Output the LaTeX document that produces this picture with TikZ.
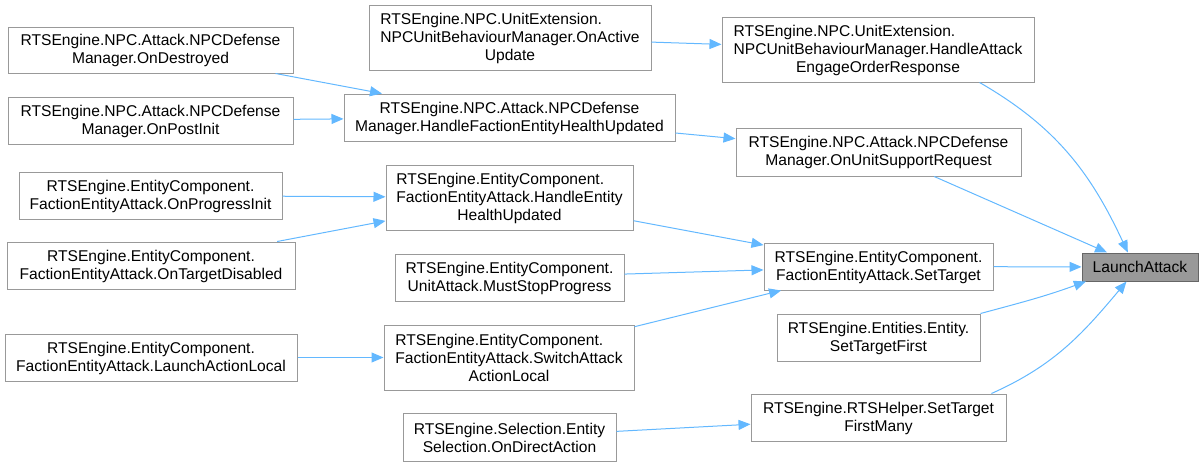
\documentclass[tikz,border=0pt]{standalone}
\usepackage{fontspec}
\setmainfont{Liberation Sans}
\usepackage{tikz}
\usetikzlibrary{calc,arrows.meta}

\definecolor{edgeblue}{HTML}{63B8FF}
\definecolor{boxline}{HTML}{999999}
\definecolor{mainfill}{HTML}{999999}
\definecolor{mainline}{HTML}{666666}

% lines before the last one are left aligned, the last one centred
\newcommand{\fnlabel}[2]{\begin{tabular}[b]{@{}l@{}}#1\end{tabular}\\#2}

\tikzset{
  fnbox/.style={draw=boxline, line width=1pt, fill=white, rectangle, inner sep=0pt,
    align=center, font=\fontsize{15.6}{18}\selectfont},
  mainbox/.style={fnbox, draw=mainline, fill=mainfill},
  call/.style={draw=edgeblue, line width=1pt, -{Triangle[length=12pt,width=10pt]}}
}

\begin{document}
\begin{tikzpicture}[x=1pt, y=-1pt]
					\useasboundingbox (0, 0) rectangle (1203, 466);

					\node[mainbox, minimum width=116pt, minimum height=28pt] (launch) at (1140, 267) {LaunchAttack};

					\node[fnbox, minimum width=312pt, minimum height=65pt] (engage) at (878, 49.5)
						{\fnlabel{RTSEngine.NPC.UnitExtension.\\NPCUnitBehaviourManager.HandleAttack}{EngageOrderResponse}};
					\node[fnbox, minimum width=285pt, minimum height=48pt] (supportreq) at (878.5, 152)
						{\fnlabel{RTSEngine.NPC.Attack.NPCDefense}{Manager.OnUnitSupportRequest}};
					\node[fnbox, minimum width=229pt, minimum height=47pt] (settarget) at (878.5, 266.5)
						{\fnlabel{RTSEngine.EntityComponent.}{FactionEntityAttack.SetTarget}};
					\node[fnbox, minimum width=203pt, minimum height=47pt] (targetfirst) at (878.5, 337.5)
						{\fnlabel{RTSEngine.Entities.Entity.}{SetTargetFirst}};
					\node[fnbox, minimum width=255pt, minimum height=47pt] (firstmany) at (878.5, 417.5)
						{\fnlabel{RTSEngine.RTSHelper.SetTarget}{FirstMany}};

					\node[fnbox, minimum width=282pt, minimum height=65pt] (activeupd) at (510, 37.5)
						{\fnlabel{RTSEngine.NPC.UnitExtension.\\NPCUnitBehaviourManager.OnActive}{Update}};
					\node[fnbox, minimum width=331pt, minimum height=47pt] (factionhealth) at (509.5, 117.5)
						{\fnlabel{RTSEngine.NPC.Attack.NPCDefense}{Manager.HandleFactionEntityHealthUpdated}};
					\node[fnbox, minimum width=247pt, minimum height=65pt] (entityhealth) at (509.5, 197.5)
						{\fnlabel{RTSEngine.EntityComponent.\\FactionEntityAttack.HandleEntity}{HealthUpdated}};
					\node[fnbox, minimum width=229pt, minimum height=47pt] (muststop) at (509.5, 277.5)
						{\fnlabel{RTSEngine.EntityComponent.}{UnitAttack.MustStopProgress}};
					\node[fnbox, minimum width=250pt, minimum height=65pt] (switchattack) at (509, 357.5)
						{\fnlabel{RTSEngine.EntityComponent.\\FactionEntityAttack.SwitchAttack}{ActionLocal}};
					\node[fnbox, minimum width=213pt, minimum height=48pt] (directaction) at (509.5, 437)
						{\fnlabel{RTSEngine.Selection.Entity}{Selection.OnDirectAction}};

					\node[fnbox, minimum width=285pt, minimum height=46pt] (destroyed) at (150.5, 50)
						{\fnlabel{RTSEngine.NPC.Attack.NPCDefense}{Manager.OnDestroyed}};
					\node[fnbox, minimum width=285pt, minimum height=47pt] (postinit) at (150.5, 120.5)
						{\fnlabel{RTSEngine.NPC.Attack.NPCDefense}{Manager.OnPostInit}};
					\node[fnbox, minimum width=263pt, minimum height=47pt] (progressinit) at (150.5, 195.5)
						{\fnlabel{RTSEngine.EntityComponent.}{FactionEntityAttack.OnProgressInit}};
					\node[fnbox, minimum width=288pt, minimum height=47pt] (targetdisabled) at (151, 265.5)
						{\fnlabel{RTSEngine.EntityComponent.}{FactionEntityAttack.OnTargetDisabled}};
					\node[fnbox, minimum width=292pt, minimum height=47pt] (actionlocal) at (151, 357.5)
						{\fnlabel{RTSEngine.EntityComponent.}{FactionEntityAttack.LaunchActionLocal}};

					% callers of LaunchAttack
					\draw[call] (engage.-18) to[out=-30, in=115] (launch.130);
					\draw[call] (supportreq) -- (launch);
					\draw[call] (settarget) -- (launch);
					\draw[call] (targetfirst.north east) to[out=15, in=-160] (launch.-165);
					\draw[call] (firstmany.12) to[out=24, in=-130] (launch.-133);

					\draw[call] (activeupd) -- (engage);
					\draw[call] (factionhealth) -- (supportreq);
					\draw[call] (entityhealth) -- (settarget);
					\draw[call] (muststop) -- (settarget);
					\draw[call] (switchattack) -- (settarget);
					\draw[call] (directaction) -- (firstmany);

					\draw[call] (destroyed) -- (factionhealth);
					\draw[call] (postinit) -- (factionhealth);
					\draw[call] (progressinit) -- (entityhealth);
					\draw[call] (targetdisabled) -- (entityhealth);
					\draw[call] (actionlocal) -- (switchattack);

				\end{tikzpicture}
\end{document}
